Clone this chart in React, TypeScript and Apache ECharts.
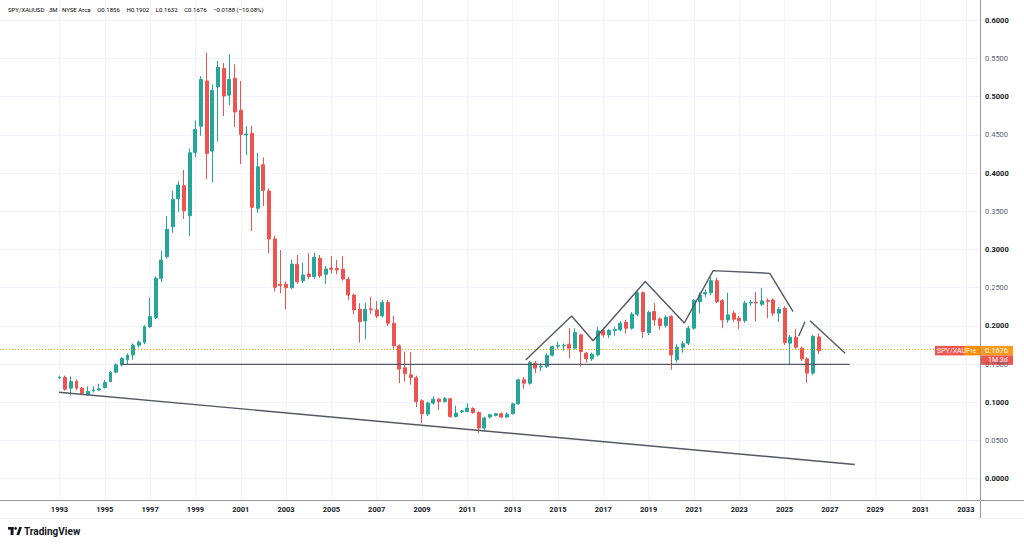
import React, { useEffect, useRef } from "react";
import * as echarts from "echarts";

// Quarterly candles (3M), index 0 = first quarter of 1993
const firstYear = 1993;
const opens = [
  0.1320, 0.1324, 0.1185, 0.1272, 0.1185, 0.1100, 0.1150, 0.1160, 0.1194, 0.1272,
  0.1395, 0.1490, 0.1556, 0.1620, 0.1748, 0.1787, 0.1990, 0.2110, 0.2624, 0.2906,
  0.3298, 0.3664, 0.3834, 0.3442, 0.4270, 0.4614, 0.5207, 0.4288, 0.5128, 0.5369,
  0.5020, 0.5242, 0.4823, 0.4500, 0.4519, 0.3539, 0.4109, 0.3765, 0.3137, 0.2545,
  0.2545, 0.2501, 0.2807, 0.2592, 0.2680, 0.2645, 0.2885, 0.2676, 0.2758, 0.2754,
  0.2741, 0.2610, 0.2405, 0.2218, 0.2065, 0.2222, 0.2209, 0.2131, 0.2305, 0.2035,
  0.1739, 0.1451, 0.1360, 0.1320, 0.1020, 0.0846, 0.0990, 0.1040, 0.1010, 0.1046,
  0.0814, 0.0875, 0.0880, 0.0919, 0.0867, 0.0663, 0.0807, 0.0828, 0.0850, 0.0808,
  0.0850, 0.0980, 0.1294, 0.1250, 0.1512, 0.1462, 0.1468, 0.1615, 0.1734, 0.1740,
  0.1760, 0.1708, 0.1882, 0.1643, 0.1569, 0.1620, 0.1939, 0.1882, 0.1939, 0.1948,
  0.2048, 0.1970, 0.2153, 0.2435, 0.1913, 0.2187, 0.2092, 0.2004, 0.2122, 0.1556,
  0.1722, 0.1774, 0.1970, 0.2318, 0.2418, 0.2435, 0.2592, 0.2331, 0.2078, 0.2166,
  0.2100, 0.2069, 0.2300, 0.2310, 0.2284, 0.2330, 0.2340, 0.2166, 0.2231, 0.1774,
  0.1852, 0.1708, 0.1569, 0.1382, 0.1856,
];
const closes = [
  0.1328, 0.1172, 0.1272, 0.1185, 0.1120, 0.1141, 0.1160, 0.1176, 0.1259, 0.1395,
  0.1490, 0.1573, 0.1617, 0.1748, 0.1787, 0.1990, 0.2122, 0.2624, 0.2863, 0.3264,
  0.3656, 0.3843, 0.3507, 0.4266, 0.4571, 0.5225, 0.4257, 0.5085, 0.5382, 0.5010,
  0.5225, 0.4800, 0.4506, 0.4512, 0.3552, 0.4083, 0.3774, 0.3137, 0.2506, 0.2530,
  0.2501, 0.2810, 0.2579, 0.2667, 0.2645, 0.2898, 0.2658, 0.2745, 0.2741, 0.2732,
  0.2614, 0.2405, 0.2209, 0.2056, 0.2218, 0.2212, 0.2131, 0.2305, 0.2035, 0.1739,
  0.1434, 0.1373, 0.1324, 0.1010, 0.0850, 0.0990, 0.1040, 0.1010, 0.1046, 0.0814,
  0.0859, 0.0889, 0.0924, 0.0867, 0.0663, 0.0794, 0.0837, 0.0850, 0.0807, 0.0845,
  0.0980, 0.1294, 0.1250, 0.1520, 0.1447, 0.1472, 0.1615, 0.1729, 0.1742, 0.1748,
  0.1708, 0.1913, 0.1664, 0.1569, 0.1630, 0.1935, 0.1882, 0.1939, 0.1952, 0.2035,
  0.1970, 0.2153, 0.2435, 0.1925, 0.2179, 0.2078, 0.2004, 0.2114, 0.1620, 0.1722,
  0.1765, 0.1970, 0.2331, 0.2405, 0.2435, 0.2592, 0.2318, 0.2078, 0.2144, 0.2088,
  0.2069, 0.2297, 0.2310, 0.2300, 0.2327, 0.2322, 0.2166, 0.2218, 0.1782, 0.1852,
  0.1722, 0.1569, 0.1382, 0.1864, 0.1676,
];
const lows = [
  0.1300, 0.1150, 0.1090, 0.1160, 0.1100, 0.1090, 0.1130, 0.1150, 0.1180, 0.1260,
  0.1380, 0.1470, 0.1490, 0.1556, 0.1720, 0.1760, 0.1970, 0.2090, 0.2575, 0.2880,
  0.3220, 0.3490, 0.3400, 0.3176, 0.4205, 0.4488, 0.3920, 0.3878, 0.4410, 0.4745,
  0.4890, 0.4605, 0.4118, 0.4235, 0.3242, 0.3480, 0.3570, 0.2950, 0.2450, 0.2427,
  0.2218, 0.2484, 0.2550, 0.2560, 0.2610, 0.2620, 0.2630, 0.2549, 0.2689, 0.2676,
  0.2592, 0.2340, 0.2150, 0.1782, 0.1826, 0.2157, 0.2100, 0.2110, 0.2000, 0.1700,
  0.1251, 0.1270, 0.1230, 0.0937, 0.0728, 0.0820, 0.0970, 0.0900, 0.1000, 0.0800,
  0.0800, 0.0860, 0.0870, 0.0850, 0.0597, 0.0620, 0.0790, 0.0815, 0.0795, 0.0800,
  0.0840, 0.0970, 0.1180, 0.1230, 0.1380, 0.1410, 0.1450, 0.1600, 0.1700, 0.1680,
  0.1578, 0.1690, 0.1468, 0.1520, 0.1540, 0.1600, 0.1850, 0.1840, 0.1870, 0.1930,
  0.1900, 0.1950, 0.2130, 0.1840, 0.1880, 0.2000, 0.1950, 0.1980, 0.1425, 0.1520,
  0.1650, 0.1750, 0.1950, 0.2166, 0.2380, 0.2400, 0.2300, 0.1970, 0.2040, 0.2050,
  0.1957, 0.2040, 0.2260, 0.2056, 0.2260, 0.2100, 0.2130, 0.2050, 0.1750, 0.1503,
  0.1700, 0.1540, 0.1251, 0.1360, 0.1632,
];
const highs = [
  0.1350, 0.1350, 0.1340, 0.1300, 0.1200, 0.1207, 0.1210, 0.1240, 0.1290, 0.1410,
  0.1510, 0.1590, 0.1640, 0.1770, 0.1810, 0.2010, 0.2366, 0.2650, 0.2985, 0.3438,
  0.3770, 0.3895, 0.4040, 0.4320, 0.4690, 0.5268, 0.5578, 0.5160, 0.5468, 0.5440,
  0.5556, 0.5425, 0.5207, 0.4614, 0.4618, 0.4266, 0.4205, 0.3800, 0.3180, 0.2993,
  0.2580, 0.2863, 0.2928, 0.2828, 0.2950, 0.2958, 0.2928, 0.2784, 0.2915, 0.2863,
  0.2915, 0.2640, 0.2420, 0.2297, 0.2305, 0.2383, 0.2327, 0.2340, 0.2340, 0.2131,
  0.1760, 0.1664, 0.1660, 0.1350, 0.1040, 0.1010, 0.1076, 0.1055, 0.1070, 0.1060,
  0.0954, 0.0900, 0.0990, 0.0935, 0.0880, 0.0810, 0.0850, 0.0860, 0.0865, 0.0870,
  0.0995, 0.1310, 0.1330, 0.1540, 0.1540, 0.1510, 0.1640, 0.1740, 0.1795, 0.1770,
  0.1970, 0.1970, 0.1900, 0.1660, 0.1650, 0.1990, 0.1980, 0.1960, 0.1990, 0.2060,
  0.2080, 0.2180, 0.2450, 0.2450, 0.2200, 0.2297, 0.2110, 0.2140, 0.2140, 0.1760,
  0.1800, 0.2000, 0.2350, 0.2440, 0.2480, 0.2640, 0.2630, 0.2350, 0.2435, 0.2200,
  0.2130, 0.2330, 0.2340, 0.2448, 0.2493, 0.2360, 0.2360, 0.2250, 0.2260, 0.1880,
  0.1960, 0.1730, 0.1590, 0.1880, 0.1902,
];

const yearTickLabels = [
  "1993", "1995", "1997", "1999", "2001", "2003", "2005", "2007", "2009", "2011",
  "2013", "2015", "2017", "2019", "2021", "2023", "2025", "2027", "2029", "2031", "2033",
];
const priceTicks = [0, 0.05, 0.1, 0.15, 0.2, 0.25, 0.3, 0.35, 0.4, 0.45, 0.5, 0.55, 0.6];

// Drawn trendlines: [quarter index, price]
const supportLine = [[10.9, 0.1497], [139.5, 0.1497]];
const lowerTrend = [[-0.09, 0.1131], [140.4, 0.0186]];
const zigzag = [
  [82.3, 0.1554], [90.4, 0.213], [94.2, 0.1806], [103.4, 0.2581], [110.3, 0.2038],
  [115.4, 0.2723], [125.4, 0.2688], [129.5, 0.2186],
];
const shortLeg = [[130.5, 0.1868], [131.6, 0.2055]];
const lastLeg = [[132.5, 0.2068], [138.7, 0.1641]];

const header = {
  symbol: "SPY/XAUUSD · 3M · NYSE Arca",
  o: "0.1856", h: "0.1902", l: "0.1632", c: "0.1676", chg: "−0.0188 (−10.08%)",
};

const UP = "#26a69a";
const DOWN = "#ef5350";
const FONT = "Roboto, 'Noto Sans', sans-serif";

export default function App() {
  const ref = useRef<HTMLDivElement>(null);

  useEffect(() => {
    document.body.style.margin = "0";
    const chart = echarts.init(ref.current!, null, { renderer: "svg" });
    const candles = opens.map((o, i) => [i, o, closes[i], lows[i], highs[i]]);
    const tickPos = yearTickLabels.map((y) => (Number(y) - firstYear) * 4);
    const lastClose = closes[closes.length - 1];

    const trend = (data: number[][], name: string) => ({
      type: "line",
      name,
      data,
      symbol: "none",
      silent: true,
      z: 5,
      lineStyle: { color: "#555860", width: 1.4 },
    });

    chart.setOption({
      animation: false,
      backgroundColor: "#ffffff",
      textStyle: { fontFamily: FONT },
      grid: { left: 0, right: 44, top: 0, bottom: 46, containLabel: false },
      xAxis: {
        type: "value",
        min: -10.5,
        max: 162.5,
        axisLine: { show: true, onZero: false, lineStyle: { color: "#9598a1", width: 1 } },
        axisTick: { show: false, customValues: tickPos },
        axisLabel: {
          customValues: tickPos,
          formatter: (v: number) => String(firstYear + Math.round(v / 4)),
          color: "#131722",
          fontSize: 7.5,
          fontWeight: "bold",
          fontFamily: FONT,
          margin: 5,
        },
        splitLine: { show: true, lineStyle: { color: "#f0f3fa", width: 1 } },
      },
      yAxis: {
        type: "value",
        position: "right",
        min: -0.02788,
        max: 0.6266,
        axisLine: { show: true, onZero: false, lineStyle: { color: "#9598a1", width: 1 } },
        axisTick: { show: false, customValues: priceTicks },
        axisLabel: {
          customValues: priceTicks,
          inside: false,
          margin: 5,
          formatter: (v: number) => {
            const s = v.toFixed(4);
            return Math.round(v * 100) % 10 === 0 ? `{b|${s}}` : `{n|${s}}`;
          },
          rich: {
            b: { fontSize: 7.5, fontWeight: "bold", color: "#131722", fontFamily: FONT },
            n: { fontSize: 7.5, color: "#5d606b", fontFamily: FONT },
          },
        },
        splitLine: { show: true, lineStyle: { color: "#f0f3fa", width: 1 } },
      },
      series: [
        {
          type: "candlestick",
          data: candles,
          encode: { x: 0, y: [1, 2, 3, 4] },
          barWidth: 3.4,
          itemStyle: {
            color: UP,
            color0: DOWN,
            borderColor: UP,
            borderColor0: DOWN,
            borderWidth: 1,
          },
          markLine: {
            silent: true,
            symbol: "none",
            label: { show: false },
            lineStyle: { color: "#f7a21b", type: [1, 2], width: 1 },
            data: [{ yAxis: lastClose }],
          },
          z: 3,
        },
        trend(supportLine, "support"),
        trend(lowerTrend, "lower"),
        trend(zigzag, "zigzag"),
        trend(shortLeg, "leg1"),
        trend(lastLeg, "leg2"),
      ],
    });

    const py = chart.convertToPixel({ yAxisIndex: 0 }, lastClose) as number;
    const boxH = 9.5;
    chart.setOption({
      graphic: {
        elements: [
          {
            id: "hdr",
            type: "text",
            left: 8,
            top: 3,
            style: {
              text: `{d|${header.symbol}}  {d|O}{r|${header.o}}  {d|H}{r|${header.h}}  {d|L}{r|${header.l}}  {d|C}{r|${header.c}}  {r|${header.chg}}`,
              rich: {
                d: { fontSize: 6, color: "#131722", fontFamily: FONT },
                r: { fontSize: 6, color: DOWN, fontFamily: FONT },
              },
            },
          },
          { id: "ext1", type: "line", shape: { x1: 980.5, y1: 500, x2: 980.5, y2: 518 }, style: { stroke: "#9598a1", lineWidth: 1 } },
          { id: "ext2", type: "line", shape: { x1: 980, y1: 500.5, x2: 1024, y2: 500.5 }, style: { stroke: "#9598a1", lineWidth: 1 } },
          { id: "ext3", type: "line", shape: { x1: 0, y1: 518.5, x2: 1024, y2: 518.5 }, style: { stroke: "#eef0f4", lineWidth: 1 } },
          { id: "tagRed", type: "rect", shape: { x: 935, y: py - boxH / 2, width: 29, height: boxH }, style: { fill: "#f05552" } },
          { id: "tagPre", type: "rect", shape: { x: 964, y: py - boxH / 2, width: 16, height: boxH }, style: { fill: "#fb8c00" } },
          { id: "tagVal", type: "rect", shape: { x: 981, y: py - boxH / 2, width: 32, height: boxH }, style: { fill: "#fb9a18" } },
          { id: "tagTime", type: "rect", shape: { x: 981, y: py + boxH / 2, width: 32, height: boxH }, style: { fill: "#f05552" } },
          { id: "tagRedT", type: "text", x: 937, y: py, style: { text: "SPY/XAU", fill: "#ffffff", fontSize: 7, fontFamily: FONT, verticalAlign: "middle", align: "left" } },
          { id: "tagPreT", type: "text", x: 966, y: py, style: { text: "Pre", fill: "#ffffff", fontSize: 7, fontFamily: FONT, verticalAlign: "middle", align: "left" } },
          { id: "tagValT", type: "text", x: 985, y: py, style: { text: lastClose.toFixed(4), fill: "#ffffff", fontSize: 7.5, fontFamily: FONT, verticalAlign: "middle", align: "left" } },
          { id: "tagTimeT", type: "text", x: 988, y: py + boxH, style: { text: "1M 3d", fill: "#ffffff", fontSize: 7, fontFamily: FONT, verticalAlign: "middle", align: "left" } },
          { id: "lg1", type: "rect", shape: { x: 8, y: 527, width: 5.5, height: 2.6 }, style: { fill: "#131722" } },
          { id: "lg2", type: "rect", shape: { x: 10.6, y: 527, width: 2.9, height: 8 }, style: { fill: "#131722" } },
          { id: "lg3", type: "circle", shape: { cx: 15.6, cy: 528.4, r: 1.4 }, style: { fill: "#131722" } },
          { id: "lg4", type: "polygon", shape: { points: [[16.4, 535], [19.2, 527], [22, 527], [19.2, 535]] }, style: { fill: "#131722" } },
          { id: "lgT", type: "text", x: 24, y: 531, style: { text: "TradingView", fill: "#131722", fontSize: 10, fontWeight: "bold", fontFamily: FONT, verticalAlign: "middle" } },
        ],
      },
    });

    return () => chart.dispose();
  }, []);

  return (
    <div
      ref={ref}
      style={{ position: "fixed", left: 0, top: 0, width: 1024, height: 546, background: "#fff" }}
    />
  );
}
